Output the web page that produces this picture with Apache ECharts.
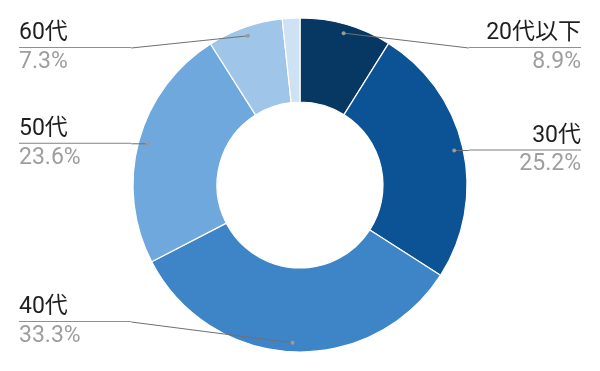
<!DOCTYPE html>
<html>
<head>
<meta charset="utf-8">
<script src="https://cdn.jsdelivr.net/npm/echarts@6/dist/echarts.min.js"></script>
<style>
html,body{margin:0;padding:0;background:#fff;}
#chart{width:600px;height:371px;}
</style>
</head>
<body>
<div id="chart"></div>
<script>
const categories = ['20代以下', '30代', '40代', '50代', '60代', '70代以上'];
const values = [8.9, 25.2, 33.3, 23.6, 7.3, 1.7];
const colors = ['#073763', '#0b5394', '#3d85c6', '#6fa8dc', '#9fc5e8', '#cfe2f3'];
const showLabel = [true, true, true, true, true, false];

const chart = echarts.init(document.getElementById('chart'));
const FONT = 'Roboto, "Noto Sans CJK JP", sans-serif';
const DOT_INSET = 9;      // dot distance inside the outer radius
const LABEL_MIN_Y = 48;   // label line band limits (layout only)
const LABEL_MAX_Y = 322;
const guidePoints = {};   // filled from the library's label layout

function itemLayout(i) {
  try {
    return chart.getModel().getSeriesByIndex(0).getData().getItemLayout(i);
  } catch (e) { return null; }
}
function dotPoint(i) {
  const l = itemLayout(i);
  if (!l) return null;
  const mid = (l.startAngle + l.endAngle) / 2;
  const R = l.r - DOT_INSET;
  return [l.cx + R * Math.cos(mid), l.cy + R * Math.sin(mid)];
}

const data = categories.map((name, i) => ({
  name: name,
  value: values[i],
  itemStyle: { color: colors[i] },
  label: { show: showLabel[i] }
}));

chart.setOption({
  animation: false,
  backgroundColor: '#ffffff',
  series: [{
    type: 'pie',
    top: 23,
    bottom: 23,
    left: 0,
    right: 0,
    center: [300, 162],
    radius: [83, 167],
    startAngle: 90,
    clockwise: true,
    data: data,
    itemStyle: { borderColor: '#ffffff', borderWidth: 1.2 },
    label: {
      show: true,
      position: 'outside',
      alignTo: 'edge',
      edgeDistance: 19,
      distanceToLabelLine: 0,
      width: 112,
      fontFamily: FONT,
      formatter: function (p) {
        return '{name|' + p.name + '}\n{hr|}\n{per|' + p.value.toFixed(1) + '%}';
      },
      rich: {
        name: { fontFamily: FONT, fontSize: 23, color: '#1f1f1f', lineHeight: 26 },
        hr: { borderColor: '#6a6a6a', width: '100%', borderWidth: 0.5, height: 0, lineHeight: 2 },
        per: { fontFamily: FONT, fontSize: 23, color: '#9e9e9e', lineHeight: 27 }
      }
    },
    labelLine: { show: false },
    labelLayout: function (p) {
      const dot = dotPoint(p.dataIndex);
      if (!dot) return {};
      const r = p.labelRect;
      const l = itemLayout(p.dataIndex);
      const isRight = dot[0] >= l.cx;
      const y = Math.min(Math.max(dot[1], LABEL_MIN_Y), LABEL_MAX_Y);
      const edgeX = isRight ? r.x : r.x + r.width;
      guidePoints[p.dataIndex] = [dot, [edgeX, y]];
      return { y: y, verticalAlign: 'middle' };
    }
  }]
});

// label guide lines and dots, placed from the library's own slice and label layout
const guides = [];
categories.forEach((c, i) => {
  if (!showLabel[i] || !guidePoints[i]) return;
  const pts = guidePoints[i];
  guides.push({
    type: 'polyline', shape: { points: pts },
    style: { stroke: '#707070', lineWidth: 1, fill: null }, z: 100
  });
  guides.push({
    type: 'circle', shape: { cx: pts[0][0], cy: pts[0][1], r: 2 },
    style: { fill: '#9a9a9a' }, z: 101
  });
});
chart.setOption({ graphic: guides });
</script>
</body>
</html>
